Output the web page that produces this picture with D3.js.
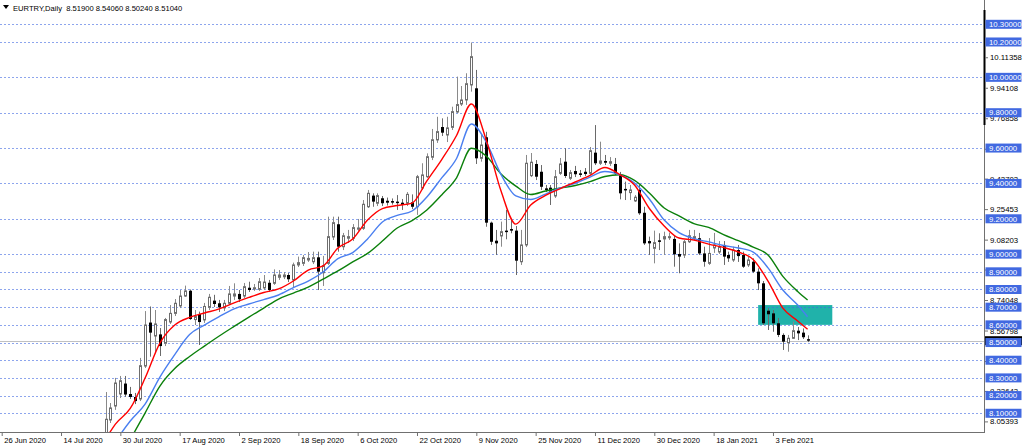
<!DOCTYPE html>
<html><head><meta charset="utf-8">
<script src="https://cdn.jsdelivr.net/npm/d3@7"></script>
<style>
html,body{margin:0;padding:0;background:#fff;}
svg{display:block;font-family:"Liberation Sans",Arial,sans-serif;}
</style></head><body>
<svg id="chart" width="1024" height="448"></svg>
<script>
// ---------------- DATA ----------------
const symbolTitle = "EURTRY,Daily";
const lastQuote = ["8.51900", "8.54060", "8.50240", "8.51040"];
const holidays = ["2020-12-25", "2021-01-01"];
const firstCandleDate = "2020-07-27";
const opens = [7.95,8.062,8.141,8.209,8.268,8.209,8.192,8.181,8.367,8.613,8.537,8.546,8.496,8.616,8.665,8.707,8.763,8.793,8.630,8.661,
8.628,8.699,8.737,8.722,8.696,8.722,8.763,8.775,8.763,8.810,8.803,8.801,8.809,8.838,8.835,8.869,8.872,8.882,8.854,8.939,
8.948,8.967,8.957,8.982,8.895,8.948,9.097,9.169,9.042,9.090,9.090,9.141,9.146,9.268,9.331,9.288,9.316,9.302,9.300,9.297,
9.291,9.288,9.293,9.268,9.374,9.438,9.548,9.646,9.719,9.674,9.717,9.804,9.849,9.872,9.957,9.938,9.542,9.661,9.178,9.076,
9.103,9.133,9.142,9.133,8.957,9.052,9.444,9.510,9.466,9.372,9.376,9.329,9.457,9.523,9.429,9.470,9.457,9.466,9.457,9.574,
9.514,9.527,9.514,9.510,9.448,9.369,9.348,9.301,9.363,9.234,9.074,9.033,9.078,9.086,9.093,9.086,9.001,8.995,9.070,9.090,
9.090,9.004,8.948,9.035,9.012,9.052,8.995,8.967,9.023,8.995,8.939,8.957,8.901,8.835,8.680,8.665,8.609,8.543,8.499,8.524,
8.567,8.556,8.519];
const highs = [8.220,8.158,8.300,8.311,8.311,8.249,8.215,8.413,8.678,8.704,8.684,8.582,8.639,8.712,8.746,8.797,8.822,8.800,8.684,8.675,
8.724,8.775,8.770,8.741,8.741,8.820,8.835,8.797,8.837,8.844,8.831,8.865,8.882,8.854,8.914,8.910,8.899,8.893,8.952,8.986,
8.995,9.012,9.014,9.014,8.990,9.212,9.212,9.212,9.120,9.137,9.170,9.199,9.306,9.363,9.344,9.344,9.329,9.320,9.315,9.334,
9.312,9.351,9.338,9.448,9.514,9.570,9.708,9.777,9.768,9.777,9.834,10.004,9.951,10.023,10.197,10.042,9.680,9.692,9.184,9.137,
9.184,9.250,9.193,9.159,9.137,9.561,9.572,9.532,9.504,9.391,9.391,9.476,9.544,9.599,9.476,9.499,9.476,9.487,9.606,9.730,
9.636,9.561,9.549,9.544,9.465,9.410,9.391,9.334,9.391,9.268,9.099,9.133,9.118,9.127,9.121,9.108,9.061,9.080,9.137,9.137,
9.120,9.042,9.091,9.120,9.074,9.074,9.014,9.042,9.052,9.014,8.986,8.976,8.920,8.848,8.694,8.684,8.639,8.552,8.543,8.618,
8.588,8.580,8.5406];
const lows = [7.93,8.045,8.119,8.186,8.192,8.181,8.152,8.169,8.356,8.420,8.441,8.424,8.480,8.605,8.650,8.695,8.758,8.628,8.599,8.486,
8.611,8.684,8.701,8.673,8.678,8.712,8.741,8.729,8.752,8.786,8.792,8.792,8.797,8.786,8.826,8.854,8.859,8.842,8.809,8.927,
8.933,8.956,8.944,8.797,8.820,8.939,9.080,9.014,9.023,9.063,9.074,9.131,9.137,9.261,9.268,9.272,9.272,9.275,9.280,9.250,
9.250,9.272,9.255,9.222,9.363,9.431,9.532,9.629,9.668,9.634,9.702,9.797,9.838,9.844,9.919,9.510,9.523,9.155,9.052,8.995,
9.042,9.084,9.118,8.882,8.939,9.040,9.436,9.419,9.363,9.351,9.278,9.318,9.448,9.431,9.419,9.436,9.436,9.442,9.448,9.504,
9.504,9.504,9.499,9.448,9.310,9.306,9.306,9.295,9.222,9.052,8.995,8.948,9.023,8.995,9.080,8.929,8.892,8.978,9.063,9.080,
8.995,8.929,8.939,9.007,9.001,8.939,8.956,8.956,8.956,8.922,8.927,8.893,8.797,8.599,8.571,8.561,8.531,8.458,8.448,8.520,
8.514,8.520,8.5024];
const closes = [8.066,8.130,8.271,8.284,8.206,8.192,8.169,8.369,8.599,8.556,8.605,8.480,8.630,8.665,8.722,8.763,8.792,8.633,8.647,8.616,
8.704,8.756,8.718,8.699,8.722,8.775,8.775,8.745,8.816,8.797,8.810,8.844,8.842,8.797,8.882,8.882,8.882,8.858,8.939,8.952,
8.980,8.976,8.980,8.901,8.935,9.099,9.178,9.042,9.104,9.099,9.150,9.148,9.282,9.344,9.297,9.331,9.288,9.291,9.293,9.291,
9.278,9.338,9.268,9.438,9.448,9.551,9.647,9.693,9.687,9.714,9.806,9.846,9.872,9.964,10.117,9.542,9.617,9.178,9.070,9.061,
9.127,9.127,9.133,8.963,9.052,9.514,9.520,9.438,9.381,9.363,9.353,9.438,9.510,9.442,9.461,9.452,9.448,9.453,9.585,9.514,
9.527,9.517,9.523,9.457,9.344,9.363,9.363,9.322,9.231,9.061,9.061,9.065,9.072,9.099,9.099,8.999,8.986,9.070,9.104,9.099,
9.004,8.957,9.004,9.052,9.042,8.986,8.976,9.023,8.989,8.929,8.967,8.901,8.835,8.609,8.660,8.609,8.543,8.505,8.524,8.567,
8.552,8.530,8.5104];

const maDates = ["2020-07-24","2020-07-29","2020-08-03","2020-08-06","2020-08-11","2020-08-14","2020-08-19","2020-08-24","2020-08-27","2020-09-01",
"2020-09-04","2020-09-09","2020-09-14","2020-09-17","2020-09-22","2020-09-25","2020-09-30","2020-10-05","2020-10-08","2020-10-13",
"2020-10-16","2020-10-21","2020-10-26","2020-10-29","2020-11-03","2020-11-06","2020-11-11","2020-11-16","2020-11-19","2020-11-24",
"2020-11-27","2020-12-02","2020-12-07","2020-12-10","2020-12-15","2020-12-18","2020-12-23","2020-12-29","2021-01-04","2021-01-07",
"2021-01-12","2021-01-15","2021-01-20","2021-01-25","2021-01-28","2021-02-02","2021-02-05","2021-02-10","2021-02-12"];
const maRed = [7.903,8.039,8.127,8.299,8.497,8.599,8.642,8.667,8.690,8.724,8.755,8.783,8.803,8.848,8.910,8.933,9.035,9.086,9.193,9.258,
9.275,9.289,9.414,9.535,9.671,9.849,9.646,9.357,9.170,9.278,9.332,9.371,9.408,9.445,9.490,9.450,9.391,9.258,9.159,9.091,
9.080,9.057,9.038,9.012,8.970,8.848,8.695,8.622,8.575];
const maBlue = [7.779,7.937,8.056,8.152,8.305,8.432,8.545,8.599,8.647,8.690,8.718,8.743,8.769,8.811,8.848,8.899,8.975,9.009,9.086,9.182,
9.219,9.244,9.323,9.431,9.541,9.736,9.634,9.450,9.329,9.309,9.340,9.374,9.400,9.436,9.467,9.448,9.402,9.312,9.193,9.122,
9.088,9.069,9.049,9.035,9.012,8.922,8.797,8.712,8.646];
const maGreen = [7.609,7.779,7.949,8.101,8.254,8.353,8.421,8.480,8.537,8.591,8.644,8.695,8.746,8.780,8.814,8.859,8.905,8.956,9.004,9.074,
9.148,9.190,9.250,9.335,9.432,9.599,9.555,9.453,9.385,9.337,9.357,9.374,9.388,9.410,9.439,9.449,9.417,9.346,9.261,9.216,
9.173,9.151,9.111,9.076,9.040,8.995,8.874,8.789,8.741];

const levelLines = [10.3,10.2,10.0,9.8,9.6,9.4,9.2,9.0,8.9,8.8,8.7,8.6,8.5,8.4,8.3,8.2,8.1];
const scaleLabels = [10.11358,9.94108,9.76858,9.59608,9.42703,9.25453,9.08203,8.91298,8.74048,8.56798,8.39548,8.22643,8.05393];
const dateTicks = ["2020-06-26","2020-07-14","2020-07-30","2020-08-17","2020-09-02","2020-09-18","2020-10-06","2020-10-22",
"2020-11-09","2020-11-25","2020-12-11","2020-12-30","2021-01-18","2021-02-03"];
const currentPrice = 8.5104;
const zoneDates = ["2021-01-29", "2021-02-19"];
const zonePrices = [8.600, 8.712];

// ---------------- LAYOUT ----------------
const plotR = 984, plotB = 432;
const svg = d3.select("#chart");
const parse = d3.utcParse("%Y-%m-%d");
const fmtISO = d3.utcFormat("%Y-%m-%d");

function tradingDays(start, end) {
  const out = [];
  const e = parse(end);
  for (let d = parse(start); d <= e; d = new Date(d.getTime() + 86400000)) {
    const wd = d.getUTCDay(), s = fmtISO(d);
    if (wd !== 0 && wd !== 6 && !holidays.includes(s)) out.push(s);
  }
  return out;
}
const allDays = tradingDays("2020-06-26", "2021-04-30");
const step = 4.944;
const x = d3.scalePoint().domain(allDays).range([1.7, 1.7 + step * (allDays.length - 1)]);
const y = d3.scaleLinear().domain([8.0, 10.3]).range([430.94, 24.3]);

const startIdx = allDays.indexOf(firstCandleDate);
const candles = opens.map((o, i) => ({
  date: allDays[startIdx + i], o, h: highs[i], l: lows[i], c: closes[i]
}));

svg.append("defs").append("clipPath").attr("id", "plotclip")
  .append("rect").attr("x", 0).attr("y", 0).attr("width", plotR).attr("height", plotB);

const plot = svg.append("g").attr("clip-path", "url(#plotclip)");

// zone rectangle (background object)
plot.append("rect")
  .attr("x", x(zoneDates[0])).attr("width", x(zoneDates[1]) - x(zoneDates[0]))
  .attr("y", y(zonePrices[1])).attr("height", y(zonePrices[0]) - y(zonePrices[1]))
  .attr("fill", "#20b2aa");

// level lines (dotted)
plot.append("g").selectAll("line").data(levelLines).join("line")
  .attr("x1", 0).attr("x2", plotR)
  .attr("y1", d => Math.round(y(d)) + 0.5).attr("y2", d => Math.round(y(d)) + 0.5)
  .attr("stroke", "#4169e1").attr("stroke-opacity", 0.6)
  .attr("stroke-width", 1).attr("stroke-dasharray", "2,2");

// current price line
plot.append("line")
  .attr("x1", 0).attr("x2", plotR)
  .attr("y1", Math.round(y(currentPrice)) + 0.5).attr("y2", Math.round(y(currentPrice)) + 0.5)
  .attr("stroke", "#c0c0c0").attr("stroke-width", 1);

// candles
const cg = plot.append("g");
const cs = cg.selectAll("g").data(candles).join("g");
cs.append("line")
  .attr("x1", d => Math.round(x(d.date)) + 0.5).attr("x2", d => Math.round(x(d.date)) + 0.5)
  .attr("y1", d => y(d.h)).attr("y2", d => y(d.l))
  .attr("stroke", d => d.c >= d.o ? "#8a8a8a" : "#6a6a6a").attr("stroke-width", 1);
cs.filter(d => d.c >= d.o).append("rect")
  .attr("x", d => Math.round(x(d.date)) - 0.5).attr("width", 2)
  .attr("y", d => y(d.c)).attr("height", d => Math.max(1, y(d.o) - y(d.c)))
  .attr("fill", "#fff").attr("stroke", "#6e6e6e").attr("stroke-width", 1);
cs.filter(d => d.c < d.o).append("rect")
  .attr("x", d => Math.round(x(d.date)) - 1).attr("width", 3)
  .attr("y", d => y(d.o)).attr("height", d => Math.max(1.5, y(d.c) - y(d.o)))
  .attr("fill", "#000");

// moving averages
const maLine = vals => d3.line()
  .x((d, i) => x(maDates[i])).y(d => y(d)).curve(d3.curveMonotoneX)(vals);
[[maGreen, "#0b800b"], [maBlue, "#4a7ff0"], [maRed, "#ff0000"]].forEach(([vals, col]) => {
  plot.append("path").attr("d", maLine(vals)).attr("fill", "none")
    .attr("stroke", col).attr("stroke-width", 1.4);
});

// frame lines
svg.append("line").attr("x1", plotR + 0.5).attr("x2", plotR + 0.5).attr("y1", 0).attr("y2", plotB + 1)
  .attr("stroke", "#707070");
svg.append("line").attr("x1", 0).attr("x2", plotR + 1).attr("y1", plotB + 0.5).attr("y2", plotB + 0.5)
  .attr("stroke", "#707070");
svg.append("line").attr("x1", plotR + 0.5).attr("x2", plotR + 0.5).attr("y1", 10).attr("y2", 125)
  .attr("stroke", "#000").attr("stroke-width", 2);

// bottom axis
const fmtTick = d3.utcFormat("%-d %b %Y");
const xAxis = d3.axisBottom(x).tickValues(dateTicks).tickSize(4).tickPadding(2)
  .tickFormat(d => fmtTick(parse(d)));
const gx = svg.append("g").attr("transform", `translate(0,${plotB})`).call(xAxis);
gx.select(".domain").remove();
gx.selectAll(".tick line").attr("stroke", "#707070");
gx.selectAll(".tick text").attr("text-anchor", "start").attr("x", 2).attr("dy", "0.71em")
  .attr("font-size", "7.6px").attr("fill", "#000").attr("font-family", "Liberation Sans, Arial, sans-serif");

// right price scale
const yAxis = d3.axisRight(y).tickValues(scaleLabels).tickSize(3).tickPadding(2)
  .tickFormat(d3.format(".5f"));
const gy = svg.append("g").attr("transform", `translate(${plotR + 1},0)`).call(yAxis);
gy.select(".domain").remove();
gy.selectAll(".tick line").attr("stroke", "#707070");
gy.selectAll(".tick text").attr("font-size", "7.8px").attr("fill", "#000")
  .attr("font-family", "Liberation Sans, Arial, sans-serif");

// current price label (black)
svg.append("rect").attr("x", plotR + 1).attr("y", y(currentPrice) - 4.5).attr("width", 37).attr("height", 9)
  .attr("fill", "#000");
svg.append("text").attr("x", plotR + 5).attr("y", y(currentPrice)).attr("dy", "0.35em")
  .attr("font-size", "7.8px").attr("fill", "#fff").text(d3.format(".5f")(currentPrice));

// level labels (blue)
const lv = svg.append("g").selectAll("g").data(levelLines).join("g");
lv.append("rect").attr("x", plotR + 1.5).attr("y", d => y(d) - 4.5).attr("width", 36).attr("height", 9)
  .attr("fill", "#4169e1");
lv.append("text").attr("x", plotR + 5).attr("y", d => y(d)).attr("dy", "0.35em")
  .attr("font-size", "7.8px").attr("fill", "#fff").text(d => d3.format(".5f")(d));

// title
svg.append("path").attr("d", "M3,5 L9,5 L6,9 Z").attr("fill", "#000");
svg.append("text").attr("x", 13).attr("y", 10.5).attr("font-size", "7.6px").attr("fill", "#000")
  .attr("xml:space", "preserve")
  .text(symbolTitle + "  " + lastQuote.join(" "));
</script>
</body></html>
